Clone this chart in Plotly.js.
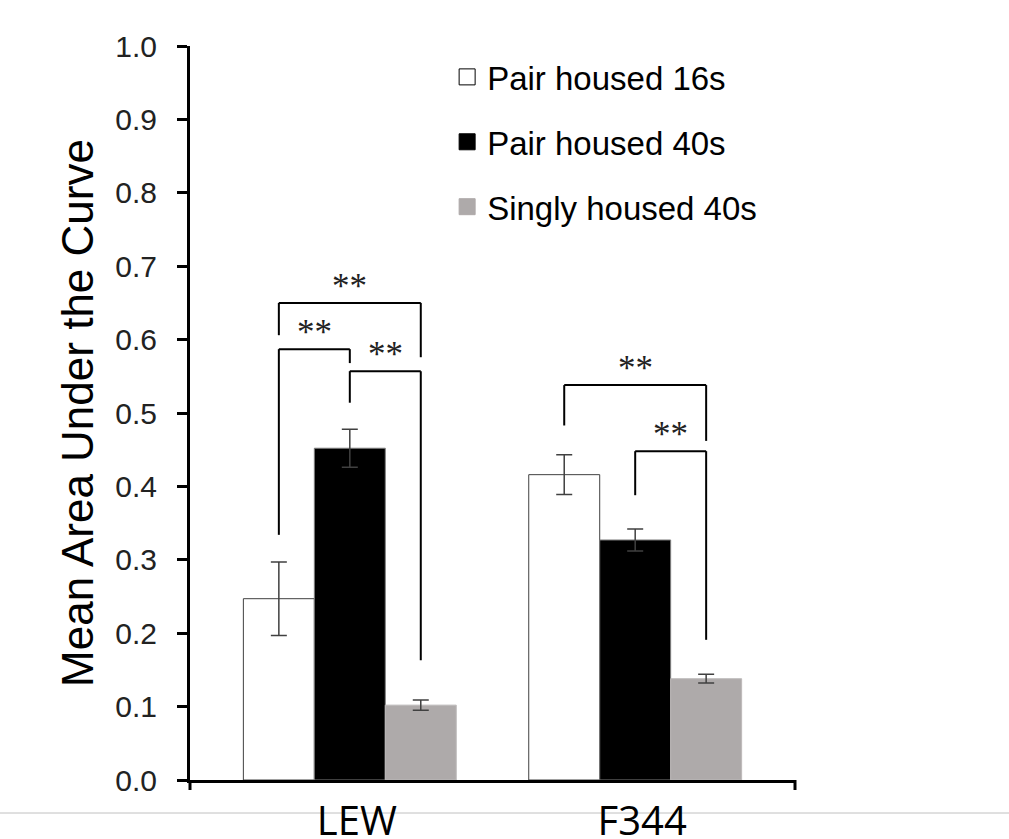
<!DOCTYPE html>
<html>
<head>
<meta charset="utf-8">
<script src="https://cdn.plot.ly/plotly-3.0.1.min.js"></script>
<style>html,body{margin:0;padding:0;background:#fff;}#chart{width:1009px;height:839px;}</style>
</head>
<body>
<div id="chart"></div>
<script>
// ---- data ----
const categories = ['LEW', 'F344'];
const seriesNames = ['Pair housed 16s', 'Pair housed 40s', 'Singly housed 40s'];
const pairHoused16 = [0.247, 0.416];
const pairHoused16Err = [0.050, 0.027];
const pairHoused40 = [0.452, 0.327];
const pairHoused40Err = [0.026, 0.015];
const singlyHoused40 = [0.102, 0.138];
const singlyHoused40Err = [0.007, 0.006];
const yTickValues = [0, 0.1, 0.2, 0.3, 0.4, 0.5, 0.6, 0.7, 0.8, 0.9, 1.0];

// significance brackets: category index, series a, series b, bar height, leg ends, label height
const brackets = [
  {cat: 0, a: 0, b: 2, y: 0.650, ya: 0.606, yb: 0.576, ly: 0.673},
  {cat: 0, a: 0, b: 1, y: 0.587, ya: 0.334, yb: 0.568, ly: 0.610},
  {cat: 0, a: 1, b: 2, y: 0.557, ya: 0.514, yb: 0.163, ly: 0.580},
  {cat: 1, a: 0, b: 2, y: 0.538, ya: 0.483, yb: 0.462, ly: 0.561},
  {cat: 1, a: 1, b: 2, y: 0.448, ya: 0.388, yb: 0.191, ly: 0.471}
];
const sigLabel = '**';

// ---- styles ----
const fills = ['#ffffff', '#000000', '#aeaaaa'];
const edges = ['#404040', '#7f7f7f', '#bdbaba'];
const bargap = 0.254;
const xIdx = categories.map((c, i) => i);
const values = [pairHoused16, pairHoused40, singlyHoused40];
const errs = [pairHoused16Err, pairHoused40Err, singlyHoused40Err];

const traces = [];
values.forEach((v, k) => {
  traces.push({
    type: 'bar', x: xIdx, y: v, name: seriesNames[k], showlegend: false,
    marker: {color: fills[k], line: {color: edges[k], width: 1}},
    error_y: {type: 'data', array: errs[k], visible: true, color: '#404040', thickness: 1.5, width: 8}
  });
});
// legend entries (square keys)
values.forEach((v, k) => {
  traces.push({
    type: 'scatter', mode: 'markers', x: [null], y: [null], name: seriesNames[k],
    legendgroup: 'g' + k, hoverinfo: 'skip',
    marker: {symbol: 'square', size: 16, color: fills[k], line: {color: k === 0 ? '#000' : fills[k], width: 1}}
  });
});

const nS = values.length;
const barW = (1 - bargap) / nS;
const barX = (cat, s) => cat + (s - (nS - 1) / 2) * barW;

const shapes = [];
const annotations = [];
brackets.forEach(b => {
  const xa = barX(b.cat, b.a), xb = barX(b.cat, b.b);
  const line = {color: '#000', width: 2};
  shapes.push({type: 'line', xref: 'x', yref: 'y', x0: xa, x1: xb, y0: b.y, y1: b.y, line: line});
  shapes.push({type: 'line', xref: 'x', yref: 'y', x0: xa, x1: xa, y0: b.y, y1: b.ya, line: line});
  shapes.push({type: 'line', xref: 'x', yref: 'y', x0: xb, x1: xb, y0: b.y, y1: b.yb, line: line});
  annotations.push({xref: 'x', yref: 'y', x: (xa + xb) / 2, y: b.ly, text: sigLabel, showarrow: false,
    xanchor: 'center', yanchor: 'middle', font: {family: 'Liberation Serif', size: 35, color: '#222'}});
});
// x-axis end ticks and page rule
shapes.push({type: 'line', xref: 'paper', yref: 'paper', x0: 0, x1: 0, y0: 0, y1: -10 / 734, line: {color: '#000', width: 3}});
shapes.push({type: 'line', xref: 'paper', yref: 'paper', x0: 1, x1: 1, y0: 0, y1: -10 / 734, line: {color: '#000', width: 3}});
shapes.push({type: 'line', xref: 'paper', yref: 'paper', x0: -0.32, x1: 1.36, y0: -33 / 734, y1: -33 / 734, line: {color: '#c0c0c0', width: 1}, layer: 'below'});

const layout = {
  width: 1009, height: 839,
  margin: {l: 190, r: 214, t: 46, b: 59},
  paper_bgcolor: '#fff', plot_bgcolor: '#fff',
  barmode: 'group', bargap: bargap, bargroupgap: 0,
  showlegend: true,
  legend: {x: 0.425, y: 0.996, xanchor: 'left', yanchor: 'top', traceorder: 'grouped', tracegroupgap: 19,
    font: {family: 'Liberation Sans', size: 33, color: '#000'}, bgcolor: 'rgba(0,0,0,0)'},
  xaxis: {
    range: [-0.56, 1.56], tickmode: 'array', tickvals: xIdx, ticktext: categories,
    showline: true, linecolor: '#000', linewidth: 3, ticks: '', showgrid: false, zeroline: false,
    tickfont: {family: 'Open Sans', size: 40, color: '#000'}, ticklabelshift: 7, ticklabelstandoff: 4,
    fixedrange: true
  },
  yaxis: {
    range: [0, 1], tickmode: 'array', tickvals: yTickValues, tickformat: '.1f',
    showline: true, linecolor: '#000', linewidth: 3, ticks: 'outside', ticklen: 10, tickwidth: 3, tickcolor: '#000',
    showgrid: false, zeroline: false, ticklabelstandoff: 14,
    tickfont: {family: 'Liberation Sans', size: 30, color: '#222'},
    title: {text: 'Mean Area Under the Curve', font: {family: 'Liberation Sans', size: 44, color: '#000'}, standoff: 8},
    automargin: false, fixedrange: true
  },
  shapes: shapes,
  annotations: annotations
};

Plotly.newPlot('chart', traces, layout, {displayModeBar: false, staticPlot: true});
</script>
</body>
</html>
